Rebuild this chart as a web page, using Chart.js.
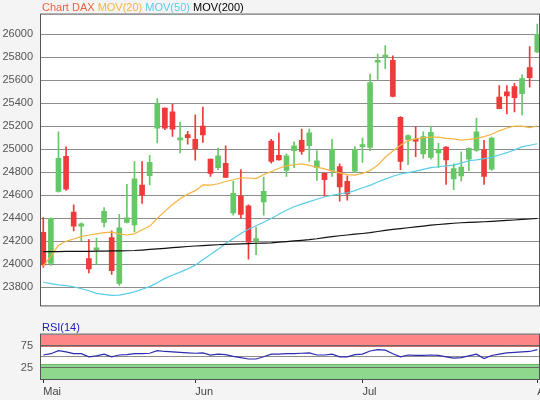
<!DOCTYPE html>
<html>
<head>
<meta charset="utf-8">
<title>Chart DAX</title>
<script src="https://cdn.jsdelivr.net/npm/chart.js@4.4.1/dist/chart.umd.min.js"></script>
<style>
  html, body { margin: 0; padding: 0; background: #f4f4f4; overflow: hidden; }
  canvas { display: block; }
</style>
</head>
<body>
<canvas id="mainChart" width="540" height="320"></canvas>
<canvas id="rsiChart" width="540" height="80"></canvas>
<script>
// Daily candles, index 0 = first trading day in May
const opens = [
  24278, 24008, 24634, 24938, 24455, 24332, 24049, 24126, 24365, 24233,
  23835, 24365, 24343, 24689, 24771, 25183, 25358, 25325, 25081, 25128,
  25086, 25202, 24914, 24840, 24878, 24447, 24593, 24508, 24206, 24543,
  25070, 24947, 24817, 24988, 25078, 25031, 24840, 24790, 24817, 24850,
  24722, 24809, 25023, 25015, 25756, 25800, 25772, 25278, 25084, 25084,
  24960, 24928, 24968, 25018, 24743, 24768, 24914, 24990, 24996, 24826,
  25454, 25498, 25545, 25482, 25709, 25846,
];
const highs = [
  24406, 24405, 25152, 25021, 24516, 24360, 24214, 24227, 24494, 24290,
  24434, 24694, 24892, 24892, 24947, 25440, 25360, 25391, 25237, 25155,
  25298, 25366, 24915, 25011, 25029, 24722, 24823, 24516, 24324, 24757,
  25086, 25140, 24960, 25064, 25175, 25175, 24988, 24796, 25086, 24873,
  24768, 25023, 25097, 25654, 25827, 25901, 25811, 25284, 25125, 25196,
  25152, 25202, 25051, 25023, 24873, 24977, 25012, 25270, 25078, 25105,
  25553, 25553, 25572, 25646, 25893, 26088,
];
const lows = [
  23973, 23990, 24626, 24642, 24291, 24206, 23926, 24000, 24324, 23912,
  23817, 24360, 24282, 24530, 24689, 25056, 25169, 25111, 24968, 25045,
  24905, 25059, 24763, 24823, 24753, 24426, 24401, 24044, 24083, 24428,
  24878, 24905, 24763, 24840, 24955, 24895, 24730, 24593, 24763, 24549,
  24557, 24796, 24886, 24988, 25607, 25701, 25455, 24823, 24867, 24935,
  24922, 24914, 24840, 24694, 24648, 24722, 24813, 24982, 24694, 24817,
  25350, 25306, 25325, 25298, 25539, 25840,
];
const closes = [
  23994, 24400, 24922, 24653, 24332, 24352, 23959, 24143, 24461, 23945,
  24316, 24403, 24743, 24604, 24886, 25394, 25183, 25175, 25092, 25101,
  25002, 25125, 24790, 24942, 24755, 24617, 24434, 24192, 24214, 24634,
  24895, 24908, 24942, 25029, 24982, 25142, 24900, 24735, 24999, 24672,
  24612, 24996, 25037, 25580, 25772, 25819, 25459, 24895, 25119, 25070,
  25111, 25147, 25000, 24908, 24831, 24845, 25008, 25152, 24763, 25097,
  25352, 25463, 25449, 25613, 25621, 25997,
];

// Moving averages
const ma20 = [
  23986, 24070, 24165, 24200, 24220, 24240, 24255, 24265, 24275, 24280,
  24265, 24255, 24265, 24300, 24330, 24400, 24460, 24520, 24570, 24610,
  24640, 24690, 24688, 24700, 24720, 24735, 24752, 24750, 24745, 24780,
  24805, 24835, 24855, 24865, 24872, 24860, 24845, 24830, 24810, 24795,
  24780, 24775, 24790, 24815, 24860, 24930, 24985, 25035, 25075, 25090,
  25100, 25105, 25105, 25095, 25090, 25080, 25085, 25095, 25110, 25130,
  25160, 25185, 25200, 25200, 25188, 25202,
];
const ma50 = [
  23844, 23833, 23822, 23815, 23805, 23788, 23770, 23748, 23738, 23730,
  23733, 23745, 23760, 23783, 23806, 23840, 23878, 23905, 23932, 23960,
  23993, 24040, 24085, 24130, 24180, 24225, 24268, 24305, 24335, 24365,
  24398, 24435, 24470, 24500, 24523, 24545, 24565, 24585, 24600, 24612,
  24622, 24640, 24665, 24686, 24715, 24740, 24765, 24785, 24797, 24810,
  24825, 24840, 24848, 24855, 24862, 24880, 24900, 24908, 24918, 24930,
  24950, 24970, 24995, 25020, 25035, 25048,
];
const ma200 = [
  24110, 24111, 24111, 24112, 24112, 24113, 24113, 24114, 24115, 24116,
  24117, 24118, 24120, 24124, 24129, 24134, 24139, 24145, 24150, 24155,
  24159, 24163, 24166, 24170, 24173, 24176, 24178, 24180, 24183, 24185,
  24187, 24192, 24197, 24203, 24208, 24214, 24222, 24232, 24240, 24248,
  24255, 24262, 24268, 24275, 24285, 24295, 24303, 24310, 24318, 24325,
  24332, 24340, 24346, 24352, 24357, 24361, 24364, 24367, 24370, 24374,
  24378, 24381, 24385, 24390, 24394, 24398,
];

// RSI(14)
const rsi14 = [
  54, 57, 64, 61, 57, 57, 50, 52, 56, 50,
  54, 55, 57, 57, 58, 64, 62, 61, 60, 59,
  58, 59, 54, 56, 55, 51, 48, 45, 45, 50,
  56, 56, 57, 57, 58, 59, 54, 54, 56, 50,
  50, 55, 56, 63, 66, 65, 57, 50, 54, 53,
  53, 54, 53, 50, 47, 48, 52, 56, 46, 53,
  56, 59, 60, 61, 62, 66,
];

// Axis ticks
const priceTicks = [23800, 24000, 24200, 24400, 24600, 24800, 25000, 25200, 25400, 25600, 25800, 26000];
const monthTicks = [0, 20, 42, 65];
const monthNames = ["Mai", "Jun", "Jul", "Aug"];
const rsiGridLines = [25, 50, 75];
const rsiLabels = [25, 75];
const rsiOverbought = [75, 100];
const rsiOversold = [0, 34];

const colors = {
  up: "#66c766",
  down: "#ee3a3a",
  ma20: "#f5b540",
  ma50: "#58cce8",
  ma200: "#111111",
  rsi: "#2c2cae",
  title: "#e8633f",
  text: "#555555",
  grid: "#8c8c8c",
  frame: "#555555",
  overbought: "#ff8686",
  oversold: "#8cd88c",
};

const fontFamily = "'Liberation Sans', Arial, sans-serif";
const xMin = -0.3;
const xMax = 65.36;

const candleColors = closes.map((c, i) => (c >= opens[i] ? colors.up : colors.down));
const toPoints = (arr) => arr.map((v, i) => ({ x: i, y: v }));

// White plot area plus dark frame
const plotFrame = {
  id: "plotFrame",
  beforeDraw(chart) {
    const { ctx, chartArea: a } = chart;
    ctx.save();
    ctx.fillStyle = "#ffffff";
    ctx.fillRect(a.left, a.top, a.right - a.left, a.bottom - a.top);
    ctx.restore();
  },
  afterDraw(chart) {
    const { ctx, chartArea: a } = chart;
    ctx.save();
    ctx.strokeStyle = colors.frame;
    ctx.lineWidth = 1;
    ctx.strokeRect(a.left - 0.5, a.top - 0.5, a.right - a.left, a.bottom - a.top + 1);
    ctx.restore();
  },
};

// Title line: "Chart DAX MOV(20) MOV(50) MOV(200)"
const titleLine = {
  id: "titleLine",
  afterDraw(chart) {
    const ctx = chart.ctx;
    const parts = [
      ["Chart DAX", colors.title],
      ["MOV(20)", colors.ma20],
      ["MOV(50)", colors.ma50],
      ["MOV(200)", "#000000"],
    ];
    ctx.save();
    ctx.font = "11px " + fontFamily;
    ctx.textBaseline = "alphabetic";
    let x = chart.chartArea.left + 1;
    parts.forEach(([text, color]) => {
      ctx.fillStyle = color;
      ctx.fillText(text, x, 11);
      x += ctx.measureText(text + " ").width;
    });
    ctx.restore();
  },
};

// RSI bands and label
const rsiBands = {
  id: "rsiBands",
  beforeDraw(chart) {
    const { ctx, chartArea: a } = chart;
    const y = chart.scales.y;
    ctx.save();
    const band = (range, fill, edge, edgeValue) => {
      const top = y.getPixelForValue(range[1]);
      const bottom = y.getPixelForValue(range[0]);
      ctx.fillStyle = fill;
      ctx.fillRect(a.left, top, a.right - a.left, bottom - top);
      ctx.strokeStyle = edge;
      ctx.beginPath();
      const ey = Math.round(y.getPixelForValue(edgeValue)) + 0.5;
      ctx.moveTo(a.left, ey);
      ctx.lineTo(a.right, ey);
      ctx.stroke();
    };
    band(rsiOverbought, colors.overbought, "#c86a6a", rsiOverbought[0]);
    band(rsiOversold, colors.oversold, "#6cb86c", rsiOversold[1]);
    ctx.font = "11px " + fontFamily;
    ctx.fillStyle = "#2020b8";
    ctx.fillText("RSI(14)", a.left + 1, 11);
    ctx.restore();
  },
};

new Chart(document.getElementById("mainChart"), {
  type: "bar",
  data: {
    datasets: [
      {
        type: "line",
        label: "MOV(200)",
        data: toPoints(ma200),
        borderColor: colors.ma200,
        borderWidth: 1.2,
        pointRadius: 0,
        order: 1,
      },
      {
        type: "line",
        label: "MOV(50)",
        data: toPoints(ma50),
        borderColor: colors.ma50,
        borderWidth: 1.2,
        pointRadius: 0,
        order: 2,
      },
      {
        type: "line",
        label: "MOV(20)",
        data: toPoints(ma20),
        borderColor: colors.ma20,
        borderWidth: 1.2,
        pointRadius: 0,
        order: 3,
      },
      {
        label: "Body",
        data: opens.map((o, i) => ({ x: i, y: [o, closes[i]] })),
        backgroundColor: candleColors,
        barThickness: 5,
        minBarLength: 2,
        grouped: false,
        order: 4,
      },
      {
        label: "Wick",
        data: lows.map((l, i) => ({ x: i, y: [l, highs[i]] })),
        backgroundColor: candleColors,
        barThickness: 1,
        grouped: false,
        order: 5,
      },
    ],
  },
  options: {
    responsive: false,
    animation: false,
    layout: { padding: { top: 13, right: 0, bottom: 1, left: 0 } },
    plugins: {
      legend: { display: false },
      tooltip: { enabled: false },
    },
    scales: {
      x: {
        type: "linear",
        min: xMin,
        max: xMax,
        offset: false,
        display: false,
      },
      y: {
        type: "linear",
        min: 23643,
        max: 26170,
        beginAtZero: false,
        afterBuildTicks: (scale) => {
          scale.ticks = priceTicks.map((v) => ({ value: v }));
        },
        afterFit: (scale) => {
          scale.width = 41;
        },
        border: { display: false },
        grid: { color: colors.grid, drawTicks: false },
        ticks: {
          padding: 8,
          color: colors.text,
          font: { family: fontFamily, size: 11 },
          callback: (v) => String(v),
        },
      },
    },
  },
  plugins: [plotFrame, titleLine],
});

new Chart(document.getElementById("rsiChart"), {
  type: "line",
  data: {
    datasets: [
      {
        label: "RSI(14)",
        data: toPoints(rsi14),
        borderColor: colors.rsi,
        borderWidth: 1.2,
        pointRadius: 0,
      },
    ],
  },
  options: {
    responsive: false,
    animation: false,
    layout: { padding: { top: 13, right: 0, bottom: 0, left: 0 } },
    plugins: {
      legend: { display: false },
      tooltip: { enabled: false },
    },
    scales: {
      x: {
        type: "linear",
        min: xMin,
        max: xMax,
        offset: false,
        afterBuildTicks: (scale) => {
          scale.ticks = monthTicks.map((v) => ({ value: v }));
        },
        afterFit: (scale) => {
          scale.height = 21;
          scale.paddingLeft = 0;
          scale.paddingRight = 0;
        },
        border: { display: false },
        grid: { drawOnChartArea: false, tickLength: 4, color: "#333333" },
        ticks: {
          align: "start",
          maxRotation: 0,
          autoSkip: false,
          padding: 2,
          color: "#444444",
          font: { family: fontFamily, size: 11 },
          callback: (v) => monthNames[monthTicks.indexOf(v)],
        },
      },
      y: {
        type: "linear",
        min: 0,
        max: 100,
        afterBuildTicks: (scale) => {
          scale.ticks = rsiGridLines.map((v) => ({ value: v }));
        },
        afterFit: (scale) => {
          scale.width = 41;
        },
        border: { display: false },
        grid: {
          drawTicks: false,
          color: (ctx) => (ctx.tick && ctx.tick.value === 50 ? colors.grid : "#6a6a6a"),
        },
        ticks: {
          padding: 8,
          color: colors.text,
          font: { family: fontFamily, size: 11 },
          callback: (v) => (rsiLabels.includes(v) ? String(v) : ""),
        },
      },
    },
  },
  plugins: [plotFrame, rsiBands],
});
</script>
</body>
</html>
